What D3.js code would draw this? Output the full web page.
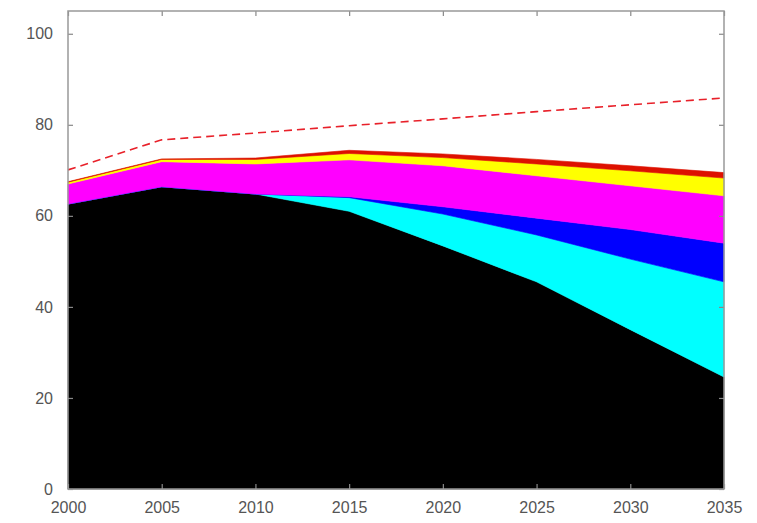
<!DOCTYPE html>
<html>
<head>
<meta charset="utf-8">
<script src="https://cdn.jsdelivr.net/npm/d3@7"></script>
<style>
  body { margin: 0; background: #fff; }
  text { font-family: "Liberation Sans", Arial, sans-serif; }
</style>
</head>
<body>
<svg id="chart"></svg>
<script>
//////////////// data ////////////////
const years   = [2000, 2005, 2010, 2015, 2020, 2025, 2030, 2035];
const black   = [62.6, 66.4, 64.8, 61.0, 53.4, 45.5, 35.0, 24.6];
const cyan    = [0, 0, 0, 3.0, 7.0, 10.3, 15.5, 20.9];
const blue    = [0, 0, 0, 0.2, 1.6, 3.7, 6.5, 8.5];
const magenta = [4.4, 5.5, 6.6, 8.1, 9.0, 9.3, 9.6, 10.4];
const yellow  = [0.4, 0.5, 1.0, 1.4, 1.8, 2.6, 3.3, 3.9];
const red     = [0.1, 0.1, 0.3, 0.7, 0.8, 1.0, 1.1, 1.2];
const dashed  = [70.1, 76.7, 78.2, 79.8, 81.3, 82.9, 84.4, 85.9];
const yTicks  = [0, 20, 40, 60, 80, 100];

const layerNames  = ["black", "cyan", "blue", "magenta", "yellow", "red"];
const layerColors = ["#000000", "#00ffff", "#0000ff", "#ff00ff", "#ffff00", "#dd1100"];

//////////////// layout ////////////////
const W = 757, H = 523;
const margin = {top: 11, right: 33, bottom: 34, left: 68},
  width = W - margin.left - margin.right,
  height = H - margin.top - margin.bottom;

const svg = d3.select("#chart").attr("width", W).attr("height", H)
  .append("g")
    .attr("transform", "translate(" + margin.left + "," + margin.top + ")");

const x = d3.scaleLinear().domain([2000, 2035]).range([0, width]);
const y = d3.scaleLinear().domain([0, 105]).range([height, 0]);

// table for the stack
const table = years.map(function(yr, i) {
  return {year: yr, black: black[i], cyan: cyan[i], blue: blue[i],
          magenta: magenta[i], yellow: yellow[i], red: red[i]};
});
const series = d3.stack().keys(layerNames)(table);

const area = d3.area()
  .x(function(d) { return x(d.data.year); })
  .y0(function(d) { return y(d[0]); })
  .y1(function(d) { return y(d[1]); });

svg.selectAll("path.layer")
  .data(series)
  .enter()
  .append("path")
  .attr("class", "layer")
  .attr("d", area)
  .attr("fill", function(d, i) { return layerColors[i]; })
  .attr("stroke", function(d, i) { return layerColors[i]; })
  .attr("stroke-width", 0.6);

// dashed line
const line = d3.line()
  .x(function(d, i) { return x(years[i]); })
  .y(function(d) { return y(d); });

svg.append("path")
  .datum(dashed)
  .attr("d", line)
  .attr("fill", "none")
  .attr("stroke", "#e8212a")
  .attr("stroke-width", 1.6)
  .attr("stroke-dasharray", "8,5");

//////////////// axes ////////////////
const tickLen = 5;
const gx = svg.append("g").attr("transform", "translate(0," + height + ")")
  .call(d3.axisBottom(x).tickValues(years).tickFormat(d3.format("d")).tickSize(-tickLen).tickPadding(13));
const gxTop = svg.append("g")
  .call(d3.axisTop(x).tickValues(years).tickFormat("").tickSize(-tickLen));
const gy = svg.append("g")
  .call(d3.axisLeft(y).tickValues(yTicks).tickSize(-tickLen).tickPadding(15));
const gyR = svg.append("g").attr("transform", "translate(" + width + ",0)")
  .call(d3.axisRight(y).tickValues(yTicks).tickFormat("").tickSize(-tickLen));

[gx, gxTop, gy, gyR].forEach(function(g) {
  g.select(".domain").remove();
  g.selectAll(".tick line").attr("stroke", "#888").attr("stroke-width", 1.2);
  g.selectAll("text").attr("fill", "#555").style("font-size", "16px");
});

// frame
svg.append("rect")
  .attr("width", width).attr("height", height)
  .attr("fill", "none")
  .attr("stroke", "#999")
  .attr("stroke-width", 1.5);
</script>
</body>
</html>
